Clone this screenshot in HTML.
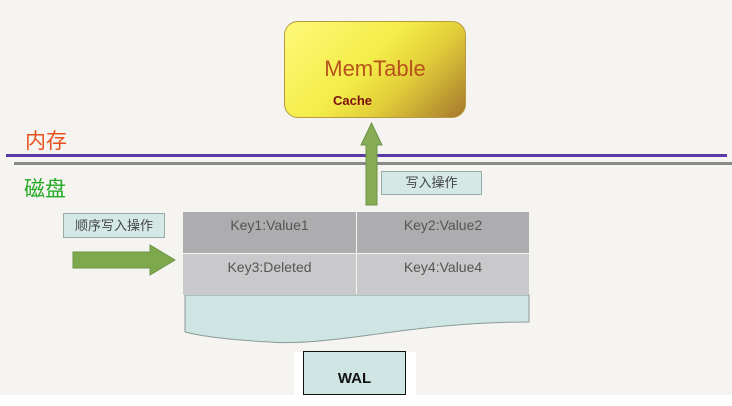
<!DOCTYPE html>
<html><head><meta charset="utf-8"><style>
body{margin:0;width:732px;height:406px;background:#fff;overflow:hidden;position:relative;font-family:"Liberation Sans","Noto Sans CJK SC",sans-serif}
.a{position:absolute}
</style></head><body>
<div class="a" style="left:0;top:0;width:732px;height:395px;background:#f5f4f1"></div>
<div class="a" style="left:284px;top:21px;width:180px;height:95px;border:1px solid #b89b40;border-radius:14px;background:linear-gradient(135deg,#fff97a 0%,#f3ec48 45%,#e3cf3a 65%,#a6782c 100%)"></div>
<div class="a" style="left:284px;top:56px;width:182px;text-align:center;font-size:22px;color:#b8521c">MemTable</div>
<div class="a" style="left:333px;top:93px;font-size:13px;font-weight:bold;color:#7a1010">Cache</div>
<div class="a" style="left:25px;top:125px;font-size:21px;color:#e8501e">内存</div>
<div class="a" style="left:6px;top:154px;width:721px;height:3px;background:#5b3aa6"></div>
<div class="a" style="left:14px;top:162px;width:718px;height:3px;background:#8a8a88"></div>
<div class="a" style="left:24px;top:173px;font-size:21px;color:#22aa22">磁盘</div>
<svg class="a" style="left:0;top:0" width="732" height="406">
<polygon points="366,205 377,205 377,145 382,145 371.5,123 361,145 366,145" fill="#86ad55" stroke="#6f9448" stroke-width="1"/>
<polygon points="73,252 150,252 150,245 175,260 150,275 150,268 73,268" fill="#7da84c" stroke="#6f9448" stroke-width="1"/>
<path d="M185,295 L529,295 L529,322 C470,322 420,328 370,335 C320,342 290,344 270,342 C230,340 200,336 185,332 Z" fill="#cfe5e3" stroke="#8a9a98" stroke-width="1"/>
</svg>
<div class="a" style="left:381px;top:171px;width:99px;height:22px;background:#d4e8e6;border:1px solid #9aa;font-size:13px;color:#444;text-align:center;line-height:22px">写入操作</div>
<div class="a" style="left:63px;top:213px;width:100px;height:23px;background:#d4e8e6;border:1px solid #9aa;font-size:13px;color:#444;text-align:center;line-height:23px">顺序写入操作</div>
<div class="a" style="left:183px;top:212px;width:173px;height:41px;background:#adacae;font-size:14px;color:#555;text-align:center;line-height:26px">Key1:Value1</div>
<div class="a" style="left:357px;top:212px;width:172px;height:41px;background:#adacae;font-size:14px;color:#555;text-align:center;line-height:26px">Key2:Value2</div>
<div class="a" style="left:183px;top:254px;width:173px;height:41px;background:#c9c8ca;font-size:14px;color:#555;text-align:center;line-height:26px">Key3:Deleted</div>
<div class="a" style="left:357px;top:254px;width:172px;height:41px;background:#c9c8ca;font-size:14px;color:#555;text-align:center;line-height:26px">Key4:Value4</div>
<div class="a" style="left:294px;top:352px;width:122px;height:46px;background:#fff"></div>
<div class="a" style="left:303px;top:351px;width:101px;height:42px;background:#cfe5e3;border:1px solid #111;font-size:15px;font-weight:bold;color:#111;text-align:center;line-height:54px">WAL</div>
</body></html>
